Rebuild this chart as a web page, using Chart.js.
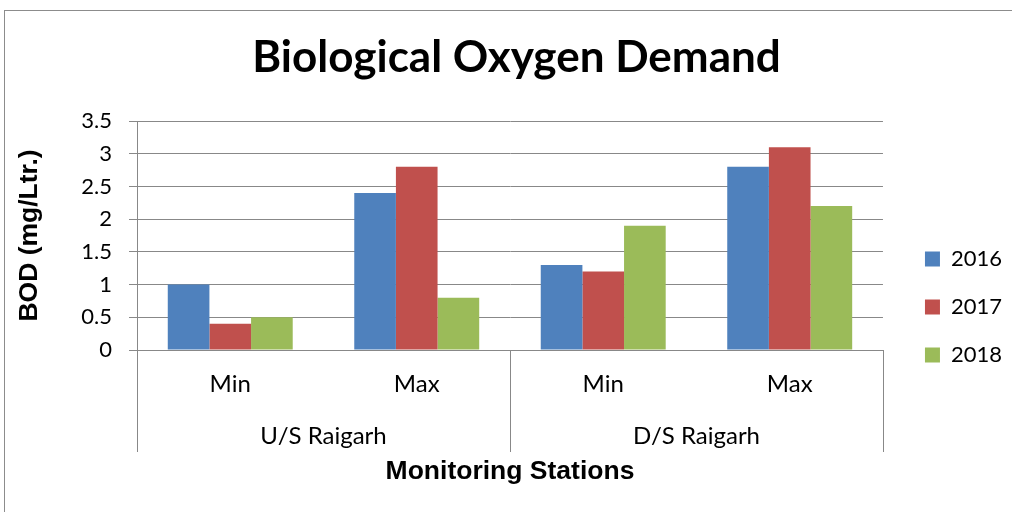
<!DOCTYPE html>
<html>
<head>
<meta charset="utf-8">
<script src="https://cdn.jsdelivr.net/npm/chart.js@4"></script>
<style>
  html, body { margin: 0; padding: 0; background: #ffffff; }
  canvas { display: block; }
</style>
</head>
<body>
<canvas id="c" width="1012" height="512"></canvas>
<script>
const categories = ['Min', 'Max', 'Min', 'Max'];
const groups = ['U/S Raigarh', 'D/S Raigarh'];
const years = ['2016', '2017', '2018'];
const values2016 = [1.0, 2.4, 1.3, 2.8];
const values2017 = [0.4, 2.8, 1.2, 3.1];
const values2018 = [0.5, 0.8, 1.9, 2.2];
const yTickValues = [0, 0.5, 1, 1.5, 2, 2.5, 3, 3.5];
const yTickLabels = ['0', '0.5', '1', '1.5', '2', '2.5', '3', '3.5'];

const seriesColors = ['#4F81BD', '#C0504D', '#9BBB59'];
const gridColor = '#888888';
const labelFont = 'Lato';
const boldFont = '"Liberation Sans", Arial, sans-serif';

const frameAndSeparators = {
  id: 'frameAndSeparators',
  beforeDraw(chart) {
    const ctx = chart.ctx;
    ctx.save();
    ctx.fillStyle = '#ffffff';
    ctx.fillRect(0, 0, chart.width, chart.height);
    ctx.strokeStyle = '#8c8c8c';
    ctx.lineWidth = 1;
    ctx.strokeRect(4.5, 10.5, chart.width + 20, chart.height + 20);
    ctx.restore();
  },
  afterDraw(chart) {
    const ctx = chart.ctx;
    const x = chart.scales.x;
    const x2 = chart.scales.x2;
    const mid = (x.getPixelForValue(1) + x.getPixelForValue(2)) / 2;
    const xs = [x.left, mid, x.right];
    const yTop = x.top;
    const yBottom = x2.top + 42;
    ctx.save();
    ctx.strokeStyle = gridColor;
    ctx.lineWidth = 1;
    ctx.beginPath();
    xs.forEach(px => {
      const p = Math.round(px) + 0.5;
      ctx.moveTo(p, yTop);
      ctx.lineTo(p, yBottom);
    });
    ctx.stroke();
    ctx.restore();
  }
};

new Chart(document.getElementById('c'), {
  type: 'bar',
  data: {
    labels: categories,
    datasets: [
      { label: years[0], data: values2016, backgroundColor: seriesColors[0], borderWidth: 0, xAxisID: 'x', yAxisID: 'y' },
      { label: years[1], data: values2017, backgroundColor: seriesColors[1], borderWidth: 0, xAxisID: 'x', yAxisID: 'y' },
      { label: years[2], data: values2018, backgroundColor: seriesColors[2], borderWidth: 0, xAxisID: 'x', yAxisID: 'y' }
    ]
  },
  options: {
    responsive: false,
    animation: false,
    devicePixelRatio: 1,
    layout: { padding: { top: 10, left: 21, right: 0, bottom: 0 } },
    datasets: { bar: { categoryPercentage: 0.67, barPercentage: 1.0 } },
    plugins: {
      title: {
        display: true,
        text: 'Biological Oxygen Demand',
        color: '#000000',
        font: { family: labelFont, size: 44, weight: 'bold' },
        padding: { top: 21.6, bottom: 36.6 }
      },
      legend: {
        display: true,
        position: 'right',
        align: 'center',
        title: { display: true, text: ' ', font: { size: 12 }, padding: { top: 0, bottom: 77.6 } },
        labels: {
          color: '#000000',
          font: { family: labelFont, size: 22 },
          boxWidth: 15,
          boxHeight: 15,
          padding: 26
        }
      },
      tooltip: { enabled: false }
    },
    scales: {
      x: {
        type: 'category',
        position: 'bottom',
        offset: true,
        weight: 0,
        grid: { display: false, drawTicks: false, tickLength: 0 },
        border: { display: true, color: gridColor },
        ticks: { color: '#000000', font: { family: labelFont, size: 24 }, padding: 19.6, maxRotation: 0, autoSkip: false },
        afterFit: s => { s.height = 60; }
      },
      x2: {
        type: 'category',
        position: 'bottom',
        labels: groups,
        offset: true,
        weight: 1,
        grid: { display: false, drawTicks: false, tickLength: 0 },
        border: { display: false },
        ticks: { color: '#000000', font: { family: labelFont, size: 24 }, padding: 11.6, maxRotation: 0, autoSkip: false },
        title: {
          display: true,
          text: 'Monitoring Stations',
          color: '#000000',
          font: { family: boldFont, size: 26.5, weight: 'bold' },
          padding: { top: 0, bottom: 24 }
        },
        afterFit: s => { s.height = 102; }
      },
      y: {
        type: 'linear',
        position: 'left',
        min: 0,
        max: 3.5,
        afterBuildTicks: s => { s.ticks = yTickValues.map(v => ({ value: v })); },
        grid: { color: gridColor, lineWidth: 1, drawTicks: true, tickLength: 8 },
        border: { display: true, color: gridColor },
        ticks: {
          color: '#000000',
          font: { family: labelFont, size: 22 },
          padding: 17,
          callback: (v, i) => yTickLabels[i]
        },
        title: {
          display: true,
          text: 'BOD (mg/Ltr.)',
          color: '#000000',
          font: { family: boldFont, size: 26.5, weight: 'bold' },
          padding: { top: -6.9, bottom: 0 }
        },
        afterFit: s => { s.width = 116; }
      },
      yR: {
        type: 'linear',
        position: 'right',
        display: true,
        grid: { display: false, drawTicks: false },
        border: { display: false },
        ticks: { display: false },
        afterFit: s => { s.width = 16; }
      }
    }
  },
  plugins: [frameAndSeparators]
});
</script>
</body>
</html>
